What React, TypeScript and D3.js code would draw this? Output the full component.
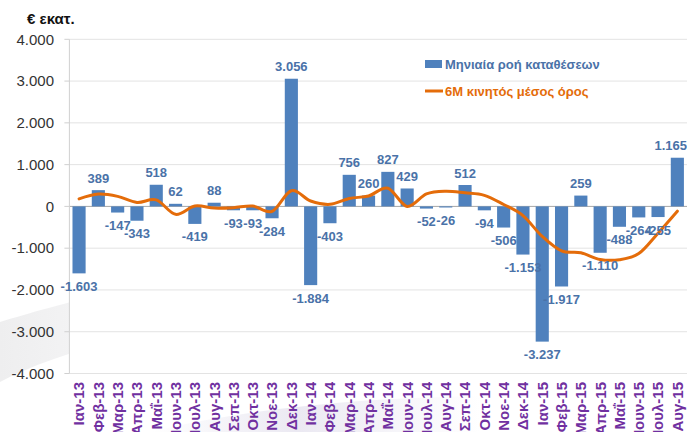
import React, { useRef, useEffect } from 'react';
import * as d3 from 'd3';

const months = [
  'Ιαν-13', 'Φεβ-13', 'Μαρ-13', 'Απρ-13', 'Μαΐ-13', 'Ιουν-13', 'Ιουλ-13', 'Αυγ-13',
  'Σεπ-13', 'Οκτ-13', 'Νοε-13', 'Δεκ-13', 'Ιαν-14', 'Φεβ-14', 'Μαρ-14', 'Απρ-14',
  'Μαΐ-14', 'Ιουν-14', 'Ιουλ-14', 'Αυγ-14', 'Σεπ-14', 'Οκτ-14', 'Νοε-14', 'Δεκ-14',
  'Ιαν-15', 'Φεβ-15', 'Μαρ-15', 'Απρ-15', 'Μαΐ-15', 'Ιουν-15', 'Ιουλ-15', 'Αυγ-15',
];

// monthly deposit flow (€ mn)
const flows = [
  -1603, 389, -147, -343, 518, 62, -419, 88,
  -93, -93, -284, 3056, -1884, -403, 756, 260,
  827, 429, -52, -26, 512, -94, -506, -1153,
  -3237, -1917, 259, -1110, -488, -264, -255, 1165,
];

// 6M moving average
const movingAvg = [
  180, 295, 240, 95, 155, -190, 10, -40,
  -30, 10, -120, 375, 130, 50, 190, 250,
  435, 0, 300, 365, 325, 265, 45, -220,
  -720, -1065, -1110, -1270, -1275, -1130, -640, -115,
];

const yTicks = [4000, 3000, 2000, 1000, 0, -1000, -2000, -3000, -4000];

const fmt = (v: number) => {
  const s = Math.abs(v).toString().replace(/\B(?=(\d{3})+(?!\d))/g, '.');
  return (v < 0 ? '-' : '') + s;
};

const App = () => {
  const svgRef = useRef<SVGSVGElement>(null);
  const width = 687;
  const height = 432;

  useEffect(() => {
    const svg = d3.select(svgRef.current);
    svg.selectAll('*').remove();

    const left = 69.4;
    const right = 687;
    const top = 39.3;
    const bottom = 373.5;
    const font = '"Liberation Sans", Arial, sans-serif';

    // faint decorative background swooshes (slide template)
    const defs = svg.append('defs');
    const g1 = defs.append('linearGradient').attr('id', 'sw1').attr('x1', 0).attr('x2', 1).attr('y1', 0).attr('y2', 0);
    g1.append('stop').attr('offset', 0).attr('stop-color', '#eeeeef');
    g1.append('stop').attr('offset', 1).attr('stop-color', '#f6f6f7');
    const g2 = defs.append('linearGradient').attr('id', 'sw2').attr('x1', 0).attr('x2', 1).attr('y1', 0).attr('y2', 0);
    g2.append('stop').attr('offset', 0).attr('stop-color', '#ffffff');
    g2.append('stop').attr('offset', 0.45).attr('stop-color', '#ebe9f2');
    g2.append('stop').attr('offset', 1).attr('stop-color', '#ffffff');
    svg.append('path')
      .attr('d', 'M0,322 C30,313 60,304 120,290 L120,340 C70,352 30,366 0,382 Z')
      .attr('fill', 'url(#sw1)');
    svg.append('path')
      .attr('d', 'M150,432 C250,408 360,398 480,396 L480,432 Z')
      .attr('fill', 'url(#sw2)');

    // white plot area
    svg.append('rect')
      .attr('x', left).attr('y', top)
      .attr('width', right - left).attr('height', bottom - top)
      .attr('fill', '#fff');

    const x = d3.scaleBand<string>()
      .domain(months)
      .range([left, right])
      .paddingInner(0.32)
      .paddingOuter(0.16);

    const y = d3.scaleLinear()
      .domain([-4000, 4000])
      .range([bottom, top]);

    // gridlines
    svg.append('g')
      .selectAll('line')
      .data(yTicks)
      .enter()
      .append('line')
      .attr('x1', left)
      .attr('x2', right)
      .attr('y1', d => y(d))
      .attr('y2', d => y(d))
      .attr('stroke', d => (d === 0 ? '#a6a6a6' : '#e3e3e3'))
      .attr('stroke-width', 1);

    // y axis line + ticks
    svg.append('line')
      .attr('x1', left).attr('x2', left)
      .attr('y1', top).attr('y2', bottom)
      .attr('stroke', '#d0d0d0');
    svg.append('g')
      .selectAll('line')
      .data(yTicks)
      .enter()
      .append('line')
      .attr('x1', left - 5)
      .attr('x2', left)
      .attr('y1', d => y(d))
      .attr('y2', d => y(d))
      .attr('stroke', '#d0d0d0');

    svg.append('g')
      .selectAll('text')
      .data(yTicks)
      .enter()
      .append('text')
      .attr('x', 54)
      .attr('y', d => y(d))
      .attr('dy', '0.35em')
      .attr('text-anchor', 'end')
      .attr('font-family', font)
      .attr('font-size', 15)
      .attr('fill', '#333')
      .text(d => fmt(d));

    // unit label
    svg.append('text')
      .attr('x', 27)
      .attr('y', 24)
      .attr('font-family', font)
      .attr('font-size', 15)
      .attr('font-weight', 'bold')
      .attr('fill', '#111')
      .text('€ εκατ.');

    // bars
    svg.append('g')
      .selectAll('rect')
      .data(flows)
      .enter()
      .append('rect')
      .attr('x', (d, i) => x(months[i])!)
      .attr('y', d => y(Math.max(0, d)))
      .attr('width', x.bandwidth())
      .attr('height', d => Math.abs(y(d) - y(0)))
      .attr('fill', '#4f81bd');

    // orange moving average line
    const line = d3.line<number>()
      .x((d, i) => x(months[i])! + x.bandwidth() / 2)
      .y(d => y(d))
      .curve(d3.curveCardinal.tension(0));
    svg.append('path')
      .datum(movingAvg)
      .attr('d', line)
      .attr('fill', 'none')
      .attr('stroke', '#e46c0a')
      .attr('stroke-width', 3)
      .attr('stroke-linecap', 'round');

    // bar value labels (last one kept inside the right edge)
    svg.append('g')
      .selectAll('text')
      .data(flows)
      .enter()
      .append('text')
      .attr('x', (d, i) => (i === flows.length - 1 ? right : x(months[i])! + x.bandwidth() / 2))
      .attr('y', d => (d >= 0 ? y(d) - 12 : y(d) + 13))
      .attr('dy', '0.35em')
      .attr('text-anchor', (d, i) => (i === flows.length - 1 ? 'end' : 'middle'))
      .attr('font-family', font)
      .attr('font-size', 13)
      .attr('font-weight', 'bold')
      .attr('fill', '#4a72a8')
      .text(d => fmt(d));

    // month labels
    svg.append('g')
      .selectAll('text')
      .data(months)
      .enter()
      .append('text')
      .attr('transform', d => `translate(${x(d)! + x.bandwidth() / 2},382) rotate(-90)`)
      .attr('dy', '0.36em')
      .attr('text-anchor', 'end')
      .attr('font-family', font)
      .attr('font-size', 15)
      .attr('font-weight', 'bold')
      .attr('fill', '#7030a0')
      .text(d => d);

    // legend
    const lg = svg.append('g');
    lg.append('rect')
      .attr('x', 425).attr('y', 60)
      .attr('width', 17).attr('height', 8)
      .attr('fill', '#4f81bd');
    lg.append('text')
      .attr('x', 445).attr('y', 64)
      .attr('dy', '0.35em')
      .attr('font-family', font)
      .attr('font-size', 13)
      .attr('font-weight', 'bold')
      .attr('fill', '#4a72a8')
      .text('Μηνιαία ροή καταθέσεων');
    lg.append('line')
      .attr('x1', 425).attr('x2', 443)
      .attr('y1', 91).attr('y2', 91)
      .attr('stroke', '#e46c0a')
      .attr('stroke-width', 3);
    lg.append('text')
      .attr('x', 445).attr('y', 91)
      .attr('dy', '0.35em')
      .attr('font-family', font)
      .attr('font-size', 13)
      .attr('font-weight', 'bold')
      .attr('fill', '#e46c0a')
      .text('6M κινητός μέσος όρος');
  }, []);

  return (
    <svg
      ref={svgRef}
      width={width}
      height={height}
      style={{ position: 'absolute', left: 0, top: 0, display: 'block', background: '#fff' }}
    />
  );
};

export default App;
